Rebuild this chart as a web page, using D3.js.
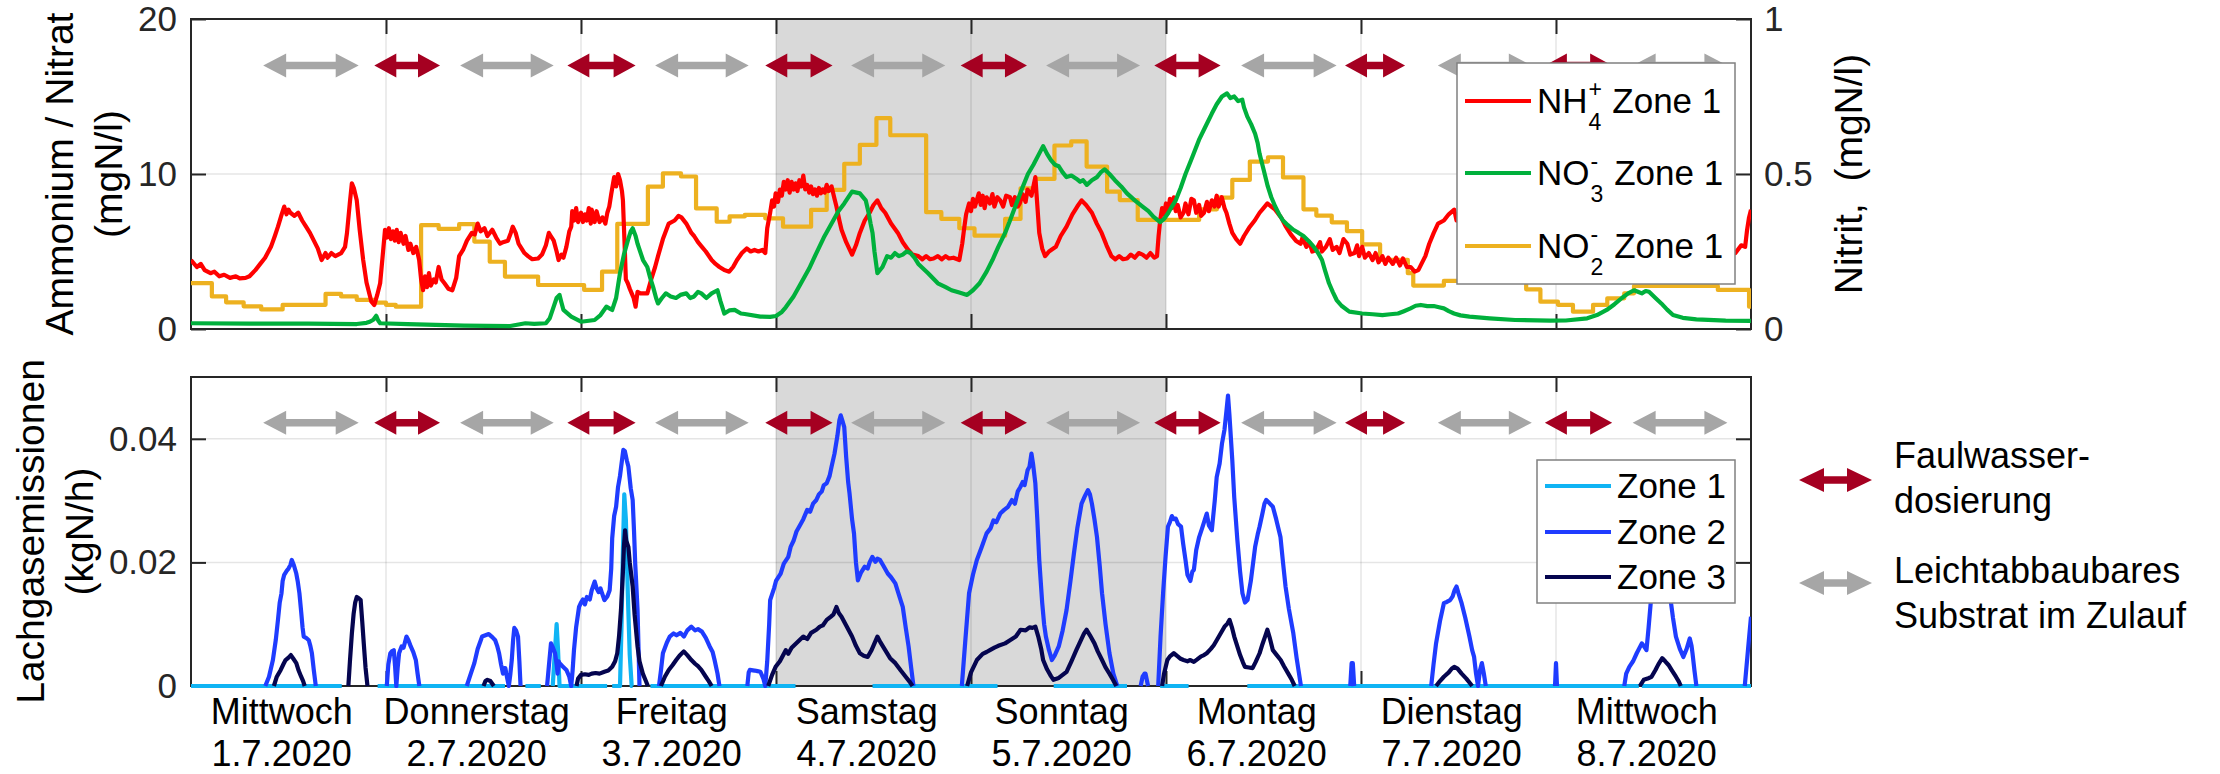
<!DOCTYPE html>
<html>
<head>
<meta charset="utf-8">
<script src="https://cdn.jsdelivr.net/npm/d3@7"></script>
<style>
  body { margin: 0; background: #fff; }
  svg { display: block; font-family: "Liberation Sans", Arial, Helvetica, sans-serif; }
  .tick text { fill: #262626; }
</style>
</head>
<body>
<svg width="2220" height="774"></svg>
<script>
// x values are days since 1.7.2020 00:00
var dayNames = ["Mittwoch", "Donnerstag", "Freitag", "Samstag", "Sonntag", "Montag", "Dienstag", "Mittwoch"];
var dayDates = ["1.7.2020", "2.7.2020", "3.7.2020", "4.7.2020", "5.7.2020", "6.7.2020", "7.7.2020", "8.7.2020"];
var weekend = [3, 5];

// dosing periods (days)
var redStart = [0.94, 1.93, 2.945, 3.947, 4.94, 5.918, 6.943];
var redEnd = [1.277, 2.28, 3.29, 4.287, 5.28, 6.226, 7.288];
var grayStart = [0.37, 1.38, 2.38, 3.385, 4.385, 5.385, 6.394, 7.393];
var grayEnd = [0.86, 1.86, 2.86, 3.868, 4.867, 5.875, 6.876, 7.879];

// NH4+ zone 1 (mgN/l)
var nh4 = [[0.00,4.45],[0.03,4.0],[0.05,4.2],[0.07,3.8],[0.10,3.6],[0.12,3.7],[0.145,3.4],[0.17,3.5],[0.20,3.3],[0.23,3.4],[0.25,3.27],[0.28,3.3],[0.30,3.4],[0.33,3.8],[0.355,4.2],[0.38,4.6],[0.41,5.3],[0.43,6.0],[0.446,6.6],[0.465,7.4],[0.478,7.9],[0.49,7.4],[0.50,7.7],[0.51,7.5],[0.53,7.3],[0.55,7.5],[0.57,7.0],[0.59,6.6],[0.61,6.2],[0.63,5.7],[0.65,5.2],[0.67,4.45],[0.69,4.9],[0.70,4.6],[0.72,4.9],[0.74,4.7],[0.77,4.9],[0.79,5.3],[0.80,6.2],[0.815,8.2],[0.825,9.4],[0.835,9.1],[0.85,8.3],[0.865,6.4],[0.883,4.45],[0.90,3.0],[0.925,1.76],[0.94,1.55],[0.955,2.2],[0.97,2.95],[0.985,5.0],[0.995,6.4],[1.005,5.9],[1.015,6.5],[1.025,5.8],[1.035,6.3],[1.045,5.7],[1.055,6.4],[1.065,5.6],[1.075,6.2],[1.09,5.5],[1.10,6.0],[1.115,5.1],[1.125,5.5],[1.14,4.9],[1.155,5.3],[1.17,4.45],[1.18,3.2],[1.19,2.5],[1.20,3.4],[1.21,2.7],[1.22,3.6],[1.23,2.8],[1.245,3.2],[1.255,3.0],[1.27,4.0],[1.285,3.2],[1.30,2.95],[1.32,2.6],[1.34,2.5],[1.36,3.3],[1.375,4.7],[1.395,5.1],[1.415,5.7],[1.44,6.2],[1.455,6.1],[1.47,6.8],[1.485,6.3],[1.505,6.5],[1.52,6.0],[1.545,6.4],[1.565,5.9],[1.585,5.5],[1.60,5.6],[1.625,5.7],[1.64,6.2],[1.65,6.6],[1.665,6.2],[1.68,5.5],[1.69,5.3],[1.71,4.9],[1.728,4.7],[1.75,4.5],[1.78,4.55],[1.80,4.8],[1.82,5.4],[1.835,6.2],[1.845,6.0],[1.86,5.7],[1.875,5.0],[1.885,4.45],[1.90,4.8],[1.91,4.6],[1.925,5.3],[1.94,6.3],[1.95,6.6],[1.955,7.6],[1.965,7.0],[1.975,7.8],[1.985,6.9],[2.0,7.5],[2.01,6.9],[2.02,7.4],[2.03,7.0],[2.04,7.8],[2.05,6.8],[2.055,7.7],[2.07,6.9],[2.08,7.6],[2.095,6.9],[2.11,7.2],[2.125,6.8],[2.135,7.5],[2.145,7.9],[2.155,8.7],[2.17,9.8],[2.18,9.2],[2.19,10.0],[2.2,9.6],[2.21,8.9],[2.215,8.3],[2.225,5.0],[2.23,3.2],[2.24,2.95],[2.25,2.6],[2.26,2.3],[2.27,2.0],[2.28,1.44],[2.29,2.4],[2.305,2.3],[2.32,2.3],[2.34,2.3],[2.36,3.2],[2.38,4.0],[2.395,4.7],[2.42,5.8],[2.45,6.8],[2.48,7.0],[2.50,7.3],[2.515,7.2],[2.54,6.8],[2.566,6.2],[2.58,6.0],[2.60,5.6],[2.62,5.3],[2.64,5.0],[2.67,4.45],[2.69,4.2],[2.71,4.0],[2.735,3.8],[2.76,3.7],[2.78,4.0],[2.80,4.45],[2.825,4.9],[2.85,5.2],[2.87,5.0],[2.89,5.1],[2.91,5.0],[2.93,5.1],[2.945,4.9],[2.955,6.5],[2.97,7.5],[2.98,8.3],[2.99,7.9],[2.998,8.75],[3.01,8.2],[3.02,9.0],[3.03,8.6],[3.04,9.5],[3.05,9.0],[3.06,9.6],[3.07,8.8],[3.08,9.5],[3.09,9.0],[3.10,9.4],[3.11,8.9],[3.12,9.6],[3.13,9.2],[3.14,9.9],[3.15,9.0],[3.16,9.3],[3.17,8.8],[3.18,9.2],[3.19,8.7],[3.20,9.0],[3.21,8.6],[3.22,9.1],[3.23,8.75],[3.24,9.0],[3.25,8.8],[3.26,9.3],[3.27,8.9],[3.285,9.2],[3.30,8.4],[3.31,7.9],[3.325,7.0],[3.336,6.4],[3.36,5.6],[3.39,4.8],[3.41,5.4],[3.43,6.2],[3.455,7.0],[3.48,7.5],[3.50,8.0],[3.52,8.3],[3.54,7.8],[3.56,7.5],[3.59,6.8],[3.625,6.2],[3.65,5.6],[3.678,5.1],[3.70,4.8],[3.73,4.7],[3.75,4.5],[3.77,4.7],[3.79,4.5],[3.808,4.55],[3.83,4.7],[3.85,4.5],[3.87,4.7],[3.887,4.55],[3.91,4.6],[3.94,4.45],[3.955,5.5],[3.966,6.6],[3.975,7.4],[3.99,8.1],[4.0,7.6],[4.01,8.4],[4.02,7.9],[4.04,8.75],[4.05,8.0],[4.06,8.6],[4.07,7.8],[4.08,8.5],[4.097,8.1],[4.11,8.7],[4.12,7.9],[4.135,8.5],[4.15,8.3],[4.165,7.9],[4.18,8.6],[4.2,8.5],[4.21,8.0],[4.225,8.5],[4.24,7.9],[4.25,8.1],[4.265,8.7],[4.28,8.2],[4.29,9.0],[4.31,8.6],[4.33,9.8],[4.34,8.0],[4.35,6.2],[4.365,5.2],[4.38,4.7],[4.40,5.0],[4.435,5.3],[4.46,6.0],[4.49,6.6],[4.52,7.4],[4.545,7.9],[4.567,8.3],[4.59,8.0],[4.62,7.5],[4.645,6.8],[4.67,6.2],[4.695,5.4],[4.72,4.7],[4.74,4.5],[4.76,4.7],[4.78,4.5],[4.80,4.55],[4.82,4.8],[4.84,4.6],[4.86,4.9],[4.88,4.8],[4.90,4.6],[4.92,4.9],[4.94,4.6],[4.954,4.7],[4.962,6.0],[4.97,7.0],[4.98,7.8],[4.99,7.4],[5.0,8.1],[5.01,7.5],[5.02,8.4],[5.03,7.8],[5.04,8.5],[5.05,7.6],[5.06,8.0],[5.075,7.2],[5.09,7.5],[5.10,8.1],[5.115,7.4],[5.13,8.4],[5.143,8.3],[5.155,7.5],[5.17,8.0],[5.18,7.3],[5.195,7.5],[5.21,8.2],[5.22,7.6],[5.235,8.3],[5.248,7.9],[5.26,8.6],[5.27,7.9],[5.286,8.5],[5.30,7.8],[5.31,7.5],[5.325,6.8],[5.34,6.2],[5.36,5.8],[5.38,5.5],[5.40,6.0],[5.43,6.6],[5.455,7.0],[5.48,7.5],[5.50,7.8],[5.52,8.1],[5.54,7.9],[5.56,7.7],[5.59,7.2],[5.615,6.6],[5.64,6.1],[5.666,5.7],[5.69,5.5],[5.70,5.9],[5.72,5.3],[5.735,5.6],[5.75,5.0],[5.77,5.1],[5.79,5.6],[5.80,5.0],[5.82,5.3],[5.84,5.8],[5.855,5.1],[5.875,5.3],[5.89,4.9],[5.91,5.8],[5.93,5.5],[5.945,4.8],[5.967,4.9],[5.98,5.4],[5.99,4.7],[6.006,5.3],[6.02,4.6],[6.04,4.9],[6.059,4.45],[6.075,4.9],[6.09,4.3],[6.11,4.7],[6.125,4.2],[6.14,4.6],[6.163,4.2],[6.18,4.6],[6.2,4.1],[6.215,4.55],[6.235,4.0],[6.255,4.0],[6.275,3.7],[6.294,3.8],[6.31,4.2],[6.33,4.7],[6.35,5.5],[6.373,6.2],[6.395,6.8],[6.425,7.0],[6.45,7.4],[6.478,7.7],[6.49,7.0],[6.6,6.6],[6.8,6.0],[7.1,5.6],[7.4,5.2],[7.7,5.0],[7.92,4.9],[7.95,5.4],[7.97,5.3],[7.98,6.4],[7.99,7.2],[8.0,7.7]];

// NO3- zone 1 (mgN/l)
var no3 = [[0,0.37],[0.3,0.35],[0.6,0.35],[0.85,0.32],[0.90,0.4],[0.917,0.47],[0.935,0.6],[0.95,0.85],[0.96,0.55],[0.97,0.37],[1.11,0.32],[1.4,0.22],[1.637,0.19],[1.715,0.37],[1.76,0.33],[1.82,0.37],[1.84,0.7],[1.86,1.44],[1.875,2.0],[1.89,2.2],[1.90,1.7],[1.91,1.23],[1.95,0.8],[2.0,0.47],[2.07,0.58],[2.10,0.9],[2.13,1.44],[2.15,1.3],[2.16,1.23],[2.18,2.0],[2.2,3.6],[2.22,4.8],[2.24,5.7],[2.255,6.3],[2.265,6.5],[2.28,6.0],[2.29,5.5],[2.318,4.45],[2.34,4.0],[2.355,3.3],[2.37,2.7],[2.385,2.0],[2.395,1.65],[2.415,2.0],[2.435,2.3],[2.46,2.1],[2.487,2.0],[2.51,2.2],[2.54,2.3],[2.56,2.0],[2.58,2.1],[2.60,2.4],[2.617,2.3],[2.643,2.0],[2.67,2.3],[2.70,2.5],[2.715,1.8],[2.735,1.0],[2.76,1.2],[2.788,1.23],[2.82,1.0],[2.84,0.97],[2.92,0.8],[2.97,0.78],[3.0,0.84],[3.03,1.1],[3.05,1.4],[3.09,2.1],[3.128,2.95],[3.17,3.9],[3.207,4.9],[3.245,5.9],[3.285,6.8],[3.32,7.6],[3.35,8.1],[3.39,8.86],[3.43,8.75],[3.46,8.3],[3.475,7.5],[3.485,6.8],[3.495,6.2],[3.505,5.0],[3.52,3.6],[3.546,4.0],[3.57,4.7],[3.59,4.6],[3.61,4.9],[3.63,4.7],[3.65,4.8],[3.67,5.0],[3.69,4.9],[3.71,4.6],[3.73,4.2],[3.78,3.6],[3.83,2.95],[3.87,2.7],[3.9,2.5],[3.94,2.35],[3.98,2.2],[4.01,2.5],[4.044,2.95],[4.08,3.7],[4.11,4.45],[4.14,5.3],[4.175,6.2],[4.2,7.0],[4.227,7.9],[4.26,9.0],[4.292,10.0],[4.32,10.6],[4.345,11.2],[4.37,11.8],[4.39,11.3],[4.41,10.9],[4.43,10.6],[4.45,10.5],[4.47,10.1],[4.49,9.8],[4.515,9.9],[4.54,9.7],[4.56,9.5],[4.575,9.6],[4.594,9.3],[4.62,9.6],[4.646,9.8],[4.665,10.1],[4.685,10.3],[4.71,10.0],[4.738,9.6],[4.77,9.2],[4.8,8.75],[4.84,8.3],[4.88,7.9],[4.91,7.6],[4.935,7.25],[4.97,6.9],[4.99,7.1],[5.012,7.5],[5.03,7.9],[5.05,8.3],[5.075,9.1],[5.1,10.0],[5.135,11.1],[5.169,12.2],[5.2,13.0],[5.235,13.9],[5.26,14.5],[5.287,15.0],[5.313,15.2],[5.33,14.9],[5.35,15.0],[5.37,14.7],[5.391,14.8],[5.40,14.3],[5.417,13.7],[5.437,13.2],[5.457,12.6],[5.47,12.0],[5.48,11.3],[5.50,10.3],[5.522,9.2],[5.54,8.5],[5.56,7.9],[5.58,7.4],[5.6,7.0],[5.625,6.7],[5.653,6.4],[5.68,6.2],[5.705,6.0],[5.73,5.7],[5.758,5.3],[5.78,4.9],[5.8,4.45],[5.815,3.8],[5.836,2.95],[5.855,2.4],[5.875,1.87],[5.9,1.5],[5.94,1.12],[6.006,1.0],[6.06,0.95],[6.11,0.9],[6.15,0.95],[6.19,1.0],[6.22,1.15],[6.254,1.33],[6.28,1.5],[6.307,1.55],[6.34,1.48],[6.373,1.48],[6.40,1.4],[6.425,1.33],[6.45,1.15],[6.477,1.0],[6.51,0.88],[6.556,0.8],[6.66,0.69],[6.79,0.58],[6.97,0.54],[7.05,0.55],[7.16,0.69],[7.21,0.9],[7.26,1.23],[7.30,1.6],[7.338,2.0],[7.37,2.3],[7.40,2.5],[7.42,2.4],[7.44,2.3],[7.46,2.45],[7.477,2.4],[7.51,2.0],[7.54,1.65],[7.57,1.25],[7.6,0.9],[7.65,0.72],[7.72,0.62],[7.87,0.54],[8.0,0.52]];

// NO2- zone 1 (mgN/l, right axis), step starts
var no2 = [[0,0.148],[0.107,0.105],[0.18,0.086],[0.27,0.073],[0.36,0.063],[0.47,0.078],[0.69,0.113],[0.77,0.105],[0.85,0.094],[0.94,0.085],[1.0,0.078],[1.05,0.072],[1.18,0.335],[1.27,0.323],[1.375,0.338],[1.453,0.282],[1.532,0.217],[1.61,0.169],[1.78,0.142],[2.016,0.126],[2.108,0.185],[2.186,0.339],[2.343,0.459],[2.42,0.502],[2.513,0.492],[2.59,0.389],[2.696,0.346],[2.762,0.363],[2.84,0.368],[2.945,0.357],[3.036,0.33],[3.18,0.384],[3.26,0.449],[3.35,0.533],[3.43,0.594],[3.515,0.68],[3.586,0.625],[3.77,0.377],[3.848,0.355],[3.94,0.325],[4.018,0.301],[4.175,0.355],[4.254,0.454],[4.33,0.484],[4.428,0.592],[4.514,0.605],[4.593,0.524],[4.698,0.443],[4.763,0.416],[4.855,0.352],[5.17,0.386],[5.261,0.424],[5.34,0.481],[5.43,0.54],[5.523,0.554],[5.6,0.489],[5.705,0.386],[5.771,0.366],[5.85,0.344],[5.928,0.316],[6.006,0.273],[6.098,0.223],[6.24,0.18],[6.268,0.14],[6.425,0.155],[6.847,0.128],[6.92,0.088],[7.01,0.078],[7.087,0.056],[7.19,0.078],[7.263,0.099],[7.35,0.115],[7.4,0.139],[7.83,0.126],[7.99,0.072],[8.0,0.072]];

// N2O emissions in 1e-3 kgN/h, null = gap
var zone1 = [[0,0],[0.773,0],null,[0.957,0],[1.61,0],null,[1.715,0],[1.794,0],null,[1.855,0],[1.865,5.0],[1.875,10.0],[1.882,6.0],[1.89,0],[1.925,0],[2.134,0],null,[2.16,0],[2.2,0],[2.208,10.0],[2.215,22.0],[2.222,31.0],[2.23,27.0],[2.24,15.0],[2.25,5.0],[2.26,0],[2.265,0],null,[2.356,0],[3.1,0],null,[3.495,0],[4.136,0],null,[4.424,0],[4.8,0],null,[4.97,0],[5.116,0],null,[5.417,0],[7.425,0],null,[7.44,0],[8.0,0]];

var zone2 = [[0.381,0],[0.40,1.5],[0.42,4.2],[0.435,7.5],[0.446,10.7],[0.455,13.5],[0.464,15.0],[0.47,17.0],[0.478,18.0],[0.49,18.6],[0.5,19.0],[0.51,19.6],[0.517,20.4],[0.528,19.5],[0.54,18.2],[0.548,16.8],[0.556,15.0],[0.565,12.0],[0.572,9.5],[0.578,8.0],[0.59,7.8],[0.604,7.4],[0.612,6.5],[0.62,5.3],[0.63,2.5],[0.64,0],null,
  [1.004,0],[1.012,3.5],[1.022,5.3],[1.03,5.6],[1.04,5.8],[1.047,3.0],[1.053,0],[1.06,3.0],[1.067,5.3],[1.08,6.4],[1.09,6.2],[1.105,8.0],[1.115,7.4],[1.127,6.4],[1.14,5.5],[1.153,4.2],[1.162,2.0],[1.171,0],null,
  [1.414,0],[1.435,2.0],[1.453,3.7],[1.47,6.0],[1.493,8.0],[1.51,8.2],[1.527,8.4],[1.545,7.9],[1.56,7.4],[1.57,6.5],[1.58,5.3],[1.59,3.5],[1.6,2.0],[1.606,2.9],[1.612,2.9],[1.62,1.5],[1.63,0],[1.638,2.0],[1.645,4.2],[1.652,7.5],[1.658,9.4],[1.667,9.0],[1.677,8.0],[1.684,4.0],[1.69,0],null,
  [1.826,0],[1.836,3.5],[1.846,6.9],[1.856,6.2],[1.867,5.3],[1.875,3.5],[1.88,2.0],[1.885,4.0],[1.89,3.7],[1.905,3.2],[1.925,2.6],[1.94,1.5],[1.95,0],[1.957,2.5],[1.964,5.8],[1.975,9.5],[1.99,12.8],[2.0,13.5],[2.01,14.0],[2.02,13.2],[2.03,14.4],[2.045,14.0],[2.055,15.5],[2.07,16.9],[2.08,15.8],[2.09,15.2],[2.1,15.8],[2.108,15.0],[2.12,13.9],[2.135,14.5],[2.147,15.5],[2.155,19.0],[2.16,23.9],[2.17,27.5],[2.18,29.0],[2.19,32.2],[2.2,34.0],[2.21,36.5],[2.217,38.2],[2.225,38.0],[2.235,36.5],[2.243,35.5],[2.255,32.0],[2.265,30.1],[2.272,25.0],[2.278,19.8],[2.285,15.5],[2.29,12.3],[2.295,6.0],[2.3,0],null,
  [2.4,0],[2.41,2.5],[2.42,5.3],[2.44,7.0],[2.455,8.0],[2.475,8.5],[2.49,8.2],[2.51,8.6],[2.528,8.0],[2.545,9.0],[2.566,9.6],[2.585,9.0],[2.6,9.2],[2.62,8.8],[2.64,7.8],[2.66,6.4],[2.675,5.5],[2.685,4.2],[2.70,2.0],[2.71,0],null,
  [2.853,0],[2.86,2.2],[2.866,2.6],[2.89,2.5],[2.905,2.4],[2.92,2.3],[2.935,1.2],[2.945,0],[2.955,4.0],[2.965,10.0],[2.97,13.9],[2.99,15.8],[3.0,17.0],[3.024,18.2],[3.04,19.8],[3.063,20.9],[3.075,22.5],[3.09,23.5],[3.105,25.0],[3.128,26.3],[3.14,27.0],[3.16,28.5],[3.175,28.2],[3.19,29.5],[3.207,30.1],[3.22,31.0],[3.235,31.5],[3.245,32.5],[3.26,32.8],[3.275,34.0],[3.285,35.5],[3.3,37.6],[3.315,40.5],[3.325,43.0],[3.332,43.8],[3.34,43.0],[3.35,41.9],[3.36,37.0],[3.37,33.0],[3.377,31.2],[3.39,27.0],[3.4,24.7],[3.41,20.0],[3.42,17.1],[3.435,18.3],[3.455,19.3],[3.47,19.0],[3.48,20.0],[3.494,20.9],[3.51,20.1],[3.52,20.6],[3.533,20.4],[3.55,19.5],[3.573,18.2],[3.59,17.6],[3.612,16.6],[3.63,14.8],[3.65,12.8],[3.665,9.5],[3.68,6.4],[3.693,3.0],[3.705,0],null,
  [3.953,0],[3.97,7.0],[3.99,15.0],[4.01,18.0],[4.03,20.4],[4.055,22.5],[4.08,24.7],[4.1,25.5],[4.115,26.8],[4.13,26.5],[4.15,27.9],[4.17,28.5],[4.19,29.0],[4.21,30.1],[4.225,29.5],[4.24,31.5],[4.253,32.2],[4.265,33.0],[4.275,32.5],[4.29,34.9],[4.3,35.5],[4.31,37.6],[4.318,36.0],[4.33,32.8],[4.34,27.0],[4.35,20.4],[4.365,13.5],[4.375,10.0],[4.384,8.0],[4.40,5.8],[4.415,4.2],[4.43,5.0],[4.45,6.4],[4.47,9.0],[4.49,12.3],[4.51,17.0],[4.528,21.5],[4.545,25.5],[4.567,29.5],[4.585,30.8],[4.6,31.7],[4.61,31.0],[4.62,29.5],[4.633,27.0],[4.646,24.1],[4.66,19.5],[4.672,15.0],[4.69,10.0],[4.71,5.3],[4.73,2.0],[4.75,0],null,
  [4.87,0],[4.88,1.5],[4.89,2.0],[4.895,2.0],[4.908,0],null,
  [4.96,0],[4.972,8.0],[4.985,15.0],[4.998,21.0],[5.01,25.8],[5.02,26.5],[5.03,27.5],[5.04,27.0],[5.05,27.1],[5.062,26.2],[5.077,25.8],[5.088,23.0],[5.1,20.4],[5.11,18.0],[5.125,17.0],[5.135,18.5],[5.143,18.8],[5.155,22.0],[5.17,24.1],[5.185,25.5],[5.2,27.0],[5.209,27.9],[5.22,26.0],[5.235,25.2],[5.25,30.0],[5.26,33.8],[5.275,36.0],[5.287,39.2],[5.3,41.5],[5.31,44.5],[5.318,47.0],[5.325,44.0],[5.34,36.5],[5.35,30.5],[5.366,23.6],[5.38,18.5],[5.392,15.0],[5.405,13.5],[5.418,13.9],[5.435,17.0],[5.457,22.5],[5.47,24.5],[5.48,25.8],[5.495,28.0],[5.505,29.5],[5.514,30.1],[5.53,29.6],[5.548,29.0],[5.565,27.0],[5.587,24.1],[5.6,20.0],[5.613,16.1],[5.63,12.5],[5.653,8.5],[5.67,4.5],[5.692,0],null,
  [5.945,0],[5.952,3.7],[5.958,3.7],[5.965,0],null,
  [6.36,0],[6.372,3.5],[6.385,6.9],[6.405,10.5],[6.425,13.4],[6.44,13.6],[6.457,13.9],[6.47,14.5],[6.48,15.5],[6.49,16.1],[6.5,15.0],[6.516,13.4],[6.535,11.0],[6.556,8.0],[6.57,5.8],[6.58,4.7],[6.59,2.0],[6.6,0],[6.61,2.5],[6.62,3.7],[6.63,2.0],[6.64,0],null,
  [6.995,0],[7.0,3.7],[7.005,0],null,
  [7.35,0],[7.36,2.0],[7.376,3.1],[7.395,4.0],[7.414,5.3],[7.44,6.9],[7.45,6.5],[7.464,5.8],[7.475,9.5],[7.49,15.0],[7.52,18.0],[7.55,19.5],[7.575,17.0],[7.59,13.4],[7.6,11.0],[7.615,8.0],[7.635,6.0],[7.653,4.7],[7.67,6.0],[7.686,7.7],[7.695,6.5],[7.7,5.3],[7.71,2.5],[7.72,0],null,
  [7.968,0],[7.985,6.0],[8.0,11.2]];

var zone3 = [[0.425,0],[0.44,1.5],[0.46,2.6],[0.475,3.6],[0.485,4.2],[0.5,4.6],[0.512,5.0],[0.525,4.4],[0.54,3.7],[0.552,2.5],[0.565,1.5],[0.575,0.8],[0.583,0],null,
  [0.807,0],[0.815,4.0],[0.825,8.5],[0.834,11.7],[0.842,13.5],[0.85,14.4],[0.86,14.2],[0.87,13.9],[0.878,10.5],[0.886,6.9],[0.895,3.0],[0.905,0],null,
  [1.5,0],[1.51,0.8],[1.52,1.0],[1.535,0.8],[1.553,0],null,
  [1.977,0],[1.985,1.2],[2.0,1.8],[2.02,1.9],[2.04,1.8],[2.055,2.0],[2.075,2.1],[2.095,2.0],[2.12,2.3],[2.14,2.5],[2.16,3.1],[2.175,4.0],[2.186,5.3],[2.195,8.0],[2.205,12.3],[2.215,18.5],[2.22,22.5],[2.226,25.2],[2.232,23.5],[2.243,22.5],[2.25,20.0],[2.265,16.1],[2.275,11.5],[2.29,6.4],[2.3,4.0],[2.317,2.0],[2.33,1.0],[2.343,0],null,
  [2.41,0],[2.43,1.5],[2.45,2.6],[2.47,3.4],[2.488,4.2],[2.505,4.9],[2.527,5.6],[2.545,5.0],[2.566,4.2],[2.585,3.6],[2.6,3.2],[2.617,2.6],[2.64,1.5],[2.655,0.8],[2.67,0],null,
  [2.96,0],[2.98,1.8],[2.998,3.1],[3.02,4.0],[3.05,5.8],[3.063,5.2],[3.08,6.2],[3.1,6.8],[3.12,7.4],[3.14,8.0],[3.16,7.6],[3.18,8.6],[3.207,9.1],[3.225,9.6],[3.24,9.8],[3.26,10.7],[3.28,11.2],[3.295,11.6],[3.31,12.8],[3.322,11.8],[3.336,11.2],[3.36,9.8],[3.39,8.0],[3.41,6.5],[3.43,5.3],[3.45,4.9],[3.47,4.7],[3.49,5.8],[3.505,6.9],[3.52,8.0],[3.535,7.1],[3.56,5.8],[3.585,4.5],[3.612,3.7],[3.64,2.5],[3.665,1.5],[3.685,0.7],[3.7,0],null,
  [3.98,0],[4.0,2.2],[4.03,4.2],[4.06,5.2],[4.08,5.5],[4.097,5.8],[4.12,6.2],[4.14,6.5],[4.175,6.9],[4.2,7.4],[4.23,8.0],[4.254,9.1],[4.28,9.0],[4.3,9.5],[4.315,9.4],[4.33,9.6],[4.345,8.0],[4.36,6.0],[4.37,4.2],[4.39,2.7],[4.41,1.6],[4.423,1.0],[4.45,1.3],[4.47,1.8],[4.49,2.3],[4.515,4.0],[4.54,5.8],[4.565,7.5],[4.58,8.5],[4.593,9.1],[4.61,8.2],[4.633,6.9],[4.65,5.6],[4.672,4.2],[4.69,3.0],[4.71,2.0],[4.728,1.0],[4.745,0],null,
  [4.98,0],[4.99,2.0],[5.007,4.2],[5.02,4.8],[5.04,5.3],[5.06,4.8],[5.075,4.4],[5.09,4.2],[5.11,4.0],[5.125,4.2],[5.143,3.9],[5.16,4.3],[5.18,4.8],[5.195,5.0],[5.209,5.3],[5.23,6.0],[5.245,6.6],[5.26,7.4],[5.28,8.5],[5.3,9.6],[5.315,10.1],[5.326,10.7],[5.338,9.5],[5.35,8.0],[5.365,6.5],[5.38,5.0],[5.395,3.8],[5.405,3.1],[5.425,3.0],[5.444,2.9],[5.46,3.9],[5.48,5.3],[5.495,6.8],[5.508,8.0],[5.52,9.1],[5.532,7.8],[5.548,5.8],[5.568,5.0],[5.588,4.2],[5.605,3.2],[5.627,2.0],[5.645,1.0],[5.66,0],null,
  [6.385,0],[6.405,0.8],[6.425,1.5],[6.45,2.2],[6.465,2.8],[6.478,3.1],[6.495,2.8],[6.516,2.0],[6.54,1.2],[6.555,0.6],[6.57,0],null,
  [7.43,0],[7.45,1.0],[7.47,1.2],[7.49,1.5],[7.51,2.6],[7.525,3.5],[7.545,4.5],[7.56,4.0],[7.577,3.4],[7.595,2.5],[7.615,1.5],[7.63,0.7],[7.64,0]];

var topTicks = [0, 10, 20];
var nitTicks = [0, 0.5, 1];
var botTicks = [0, 0.02, 0.04];

var red = "#a50021";
var gray = "#a6a6a6";
var axisColor = "#262626";
var font = "\"Liberation Sans\", Arial, Helvetica, sans-serif";
var lineW = 4.2;

var left = 191, right = 1751;
var top1 = 19, bot1 = 329;
var top2 = 377, bot2 = 686;

var xScale = d3.scaleLinear().domain([0, 8]).range([left, right]);
var yTop = d3.scaleLinear().domain([0, 20]).range([bot1, top1]);
var yNit = d3.scaleLinear().domain([0, 1]).range([bot1, top1]);
var yBot = d3.scaleLinear().domain([0, 0.05]).range([bot2, top2]);

var svg = d3.select("svg");
var defs = svg.append("defs");

[["clipTop", top1, bot1], ["clipBot", top2, bot2]].forEach(function(c) {
  defs.append("clipPath").attr("id", c[0])
    .append("rect")
      .attr("x", left)
      .attr("y", c[1] - 2)
      .attr("width", right - left)
      .attr("height", c[2] - c[1] + 4);
});

function panel(yS, top, bot, gridVals) {
  var g = svg.append("g");

  // weekend shading
  g.append("rect")
    .attr("x", xScale(weekend[0]))
    .attr("y", top)
    .attr("width", xScale(weekend[1]) - xScale(weekend[0]))
    .attr("height", bot - top)
    .attr("fill", "#d9d9d9");

  // grid
  g.selectAll(".vgrid")
    .data(d3.range(1, 8))
    .enter()
    .append("line")
      .attr("x1", d => xScale(d))
      .attr("x2", d => xScale(d))
      .attr("y1", top)
      .attr("y2", bot)
      .attr("stroke", "rgba(0,0,0,0.1)")
      .attr("stroke-width", 1.5);

  g.selectAll(".hgrid")
    .data(gridVals)
    .enter()
    .append("line")
      .attr("x1", left)
      .attr("x2", right)
      .attr("y1", d => yS(d))
      .attr("y2", d => yS(d))
      .attr("stroke", "rgba(0,0,0,0.1)")
      .attr("stroke-width", 1.5);

  // box
  g.append("rect")
    .attr("x", left)
    .attr("y", top)
    .attr("width", right - left)
    .attr("height", bot - top)
    .attr("fill", "none")
    .attr("stroke", axisColor)
    .attr("stroke-width", 2);

  // day ticks top and bottom
  g.append("g")
    .attr("transform", `translate(0, ${bot})`)
    .call(d3.axisBottom(xScale).tickValues(d3.range(1, 8)).tickSize(-15).tickFormat(""))
    .call(s => s.select(".domain").remove())
    .selectAll("line").attr("stroke", axisColor).attr("stroke-width", 2);

  g.append("g")
    .attr("transform", `translate(0, ${top})`)
    .call(d3.axisTop(xScale).tickValues(d3.range(1, 8)).tickSize(-15).tickFormat(""))
    .call(s => s.select(".domain").remove())
    .selectAll("line").attr("stroke", axisColor).attr("stroke-width", 2);

  return g;
}

var gTop = panel(yTop, top1, bot1, [10]);
var gBot = panel(yBot, top2, bot2, [0.02, 0.04]);

// y axes
function styleAxis(s) {
  s.select(".domain").remove();
  s.selectAll("line").attr("stroke", axisColor).attr("stroke-width", 2);
  s.selectAll("text")
    .attr("font-family", font)
    .attr("font-size", 35)
    .attr("fill", axisColor);
}

gTop.append("g")
  .attr("transform", `translate(${left}, 0)`)
  .call(d3.axisLeft(yTop).tickValues(topTicks).tickSize(-15).tickPadding(14))
  .call(styleAxis);

gTop.append("g")
  .attr("transform", `translate(${right}, 0)`)
  .call(d3.axisRight(yNit).tickValues(nitTicks).tickSize(-15).tickPadding(13)
    .tickFormat(d => String(d)))
  .call(styleAxis);

gBot.append("g")
  .attr("transform", `translate(${left}, 0)`)
  .call(d3.axisLeft(yBot).tickValues(botTicks).tickSize(-15).tickPadding(14)
    .tickFormat(d => d === 0 ? "0" : d.toFixed(2)))
  .call(styleAxis);

gBot.append("g")
  .attr("transform", `translate(${right}, 0)`)
  .call(d3.axisRight(yBot).tickValues(botTicks).tickSize(-15).tickFormat(""))
  .call(styleAxis);

// data lines
function drawLine(g, clip, data, yAcc, color, curve) {
  var line = d3.line()
    .defined(d => d !== null)
    .x(d => xScale(d[0]))
    .y(yAcc)
    .curve(curve || d3.curveLinear);
  g.append("path")
    .datum(data)
    .attr("clip-path", `url(#${clip})`)
    .attr("d", line)
    .attr("fill", "none")
    .attr("stroke", color)
    .attr("stroke-width", lineW)
    .attr("stroke-linejoin", "round");
}

drawLine(gTop, "clipTop", no2, d => yNit(d[1]), "#edb120", d3.curveStepAfter);
drawLine(gTop, "clipTop", nh4, d => yTop(d[1]), "#ff0000");
drawLine(gTop, "clipTop", no3, d => yTop(d[1]), "#00b03c");

drawLine(gBot, "clipBot", zone1, d => yBot(d[1] / 1000), "#10b4f4");
drawLine(gBot, "clipBot", zone2, d => yBot(d[1] / 1000), "#1f3cff");
drawLine(gBot, "clipBot", zone3, d => yBot(d[1] / 1000), "#05054f");

// double arrows
function arrowPath(x1, x2, y, hl, hh, st) {
  return "M" + x1 + "," + y +
    "L" + (x1 + hl) + "," + (y - hh) +
    "L" + (x1 + hl) + "," + (y - st) +
    "L" + (x2 - hl) + "," + (y - st) +
    "L" + (x2 - hl) + "," + (y - hh) +
    "L" + x2 + "," + y +
    "L" + (x2 - hl) + "," + (y + hh) +
    "L" + (x2 - hl) + "," + (y + st) +
    "L" + (x1 + hl) + "," + (y + st) +
    "L" + (x1 + hl) + "," + (y + hh) + "Z";
}

function drawArrows(g, y) {
  g.selectAll(null)
    .data(d3.zip(grayStart, grayEnd))
    .enter()
    .append("path")
      .attr("d", d => arrowPath(xScale(d[0]), xScale(d[1]), y, 23, 12, 3.8))
      .attr("fill", gray);
  g.selectAll(null)
    .data(d3.zip(redStart, redEnd))
    .enter()
    .append("path")
      .attr("d", d => arrowPath(xScale(d[0]), xScale(d[1]), y, 22, 12, 3.8))
      .attr("fill", red);
}

// legends
function legend(g, x, y, w, h, rowY, colors, labels) {
  var lg = g.append("g");
  lg.append("rect")
    .attr("x", x)
    .attr("y", y)
    .attr("width", w)
    .attr("height", h)
    .attr("fill", "#fff")
    .attr("stroke", "#808080")
    .attr("stroke-width", 1.5);
  rowY.forEach(function(ry, i) {
    lg.append("line")
      .attr("x1", x + 8)
      .attr("x2", x + 74)
      .attr("y1", ry)
      .attr("y2", ry)
      .attr("stroke", colors[i])
      .attr("stroke-width", lineW);
    labels[i](lg, x + 80, ry + 12);
  });
  return lg;
}

function chem(base, sup, sub) {
  return function(lg, tx, ty) {
    var t = lg.append("text")
      .attr("x", tx)
      .attr("y", ty)
      .attr("font-family", font)
      .attr("font-size", 35)
      .attr("fill", "#000")
      .text(base);
    var bw = t.node().getComputedTextLength();
    lg.append("text")
      .attr("x", tx + bw + 1)
      .attr("y", ty - 16)
      .attr("font-family", font)
      .attr("font-size", 23)
      .text(sup);
    lg.append("text")
      .attr("x", tx + bw + 1)
      .attr("y", ty + 17)
      .attr("font-family", font)
      .attr("font-size", 23)
      .text(sub);
    lg.append("text")
      .attr("x", tx + bw + 15)
      .attr("y", ty)
      .attr("font-family", font)
      .attr("font-size", 35)
      .attr("xml:space", "preserve")
      .text(" Zone 1");
  };
}

function plain(label) {
  return function(lg, tx, ty) {
    lg.append("text")
      .attr("x", tx)
      .attr("y", ty)
      .attr("font-family", font)
      .attr("font-size", 35)
      .text(label);
  };
}

drawArrows(gTop, yTop(17));
legend(gTop, 1457, 63, 278, 221, [101, 173, 246],
  ["#ff0000", "#00b03c", "#edb120"],
  [chem("NH", "+", "4"), chem("NO", "-", "3"), chem("NO", "-", "2")]);

drawArrows(gBot, yBot(0.0426));
legend(gBot, 1537, 460, 198, 143, [486, 532, 577],
  ["#10b4f4", "#1f3cff", "#05054f"],
  [plain("Zone 1"), plain("Zone 2"), plain("Zone 3")]);

// axis labels
function vlabel(x, y, label) {
  svg.append("text")
    .attr("transform", `translate(${x}, ${y}) rotate(-90)`)
    .attr("text-anchor", "middle")
    .attr("font-family", font)
    .attr("font-size", 39)
    .attr("fill", "#000")
    .attr("xml:space", "preserve")
    .text(label);
}

vlabel(73, (top1 + bot1) / 2, "Ammonium / Nitrat");
vlabel(122, (top1 + bot1) / 2, "(mgN/l)");
vlabel(1862, (top1 + bot1) / 2, "Nitrit,  (mgN/l)");
vlabel(44, (top2 + bot2) / 2, "Lachgasemissionen");
vlabel(93, (top2 + bot2) / 2, "(kgN/h)");

// day labels
var dayLabels = svg.append("g")
  .attr("font-family", font)
  .attr("font-size", 36)
  .attr("text-anchor", "middle")
  .attr("fill", "#000");

dayLabels.selectAll(null)
  .data(dayNames)
  .enter()
  .append("text")
    .attr("x", (d, i) => xScale(i + 0.465))
    .attr("y", 724)
    .text(d => d);

dayLabels.selectAll(null)
  .data(dayDates)
  .enter()
  .append("text")
    .attr("x", (d, i) => xScale(i + 0.465))
    .attr("y", 766)
    .text(d => d);

// side legend for the arrows
var side = svg.append("g")
  .attr("font-family", font)
  .attr("font-size", 36)
  .attr("fill", "#000");

side.append("path").attr("d", arrowPath(1799, 1872, 480, 25, 12, 3.8)).attr("fill", red);
side.append("path").attr("d", arrowPath(1799, 1872, 583, 25, 12, 3.8)).attr("fill", gray);
side.append("text").attr("x", 1894).attr("y", 468).text("Faulwasser-");
side.append("text").attr("x", 1894).attr("y", 513).text("dosierung");
side.append("text").attr("x", 1894).attr("y", 583).text("Leichtabbaubares");
side.append("text").attr("x", 1894).attr("y", 628).text("Substrat im Zulauf");
</script>
</body>
</html>
